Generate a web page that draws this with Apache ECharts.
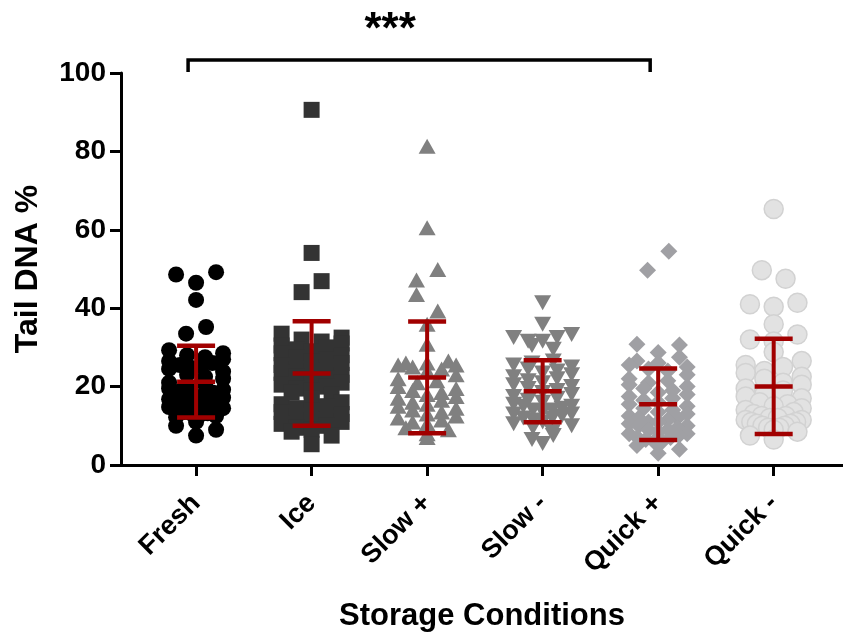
<!DOCTYPE html>
<html>
<head>
<meta charset="utf-8">
<script src="https://cdn.jsdelivr.net/npm/echarts@6/dist/echarts.min.js"></script>
<style>
  html, body { margin: 0; padding: 0; background: #fff; }
  #chart { width: 843px; height: 637px; }
</style>
</head>
<body>
<div id="chart"></div>
<script>
const categories = ['Fresh', 'Ice', 'Slow +', 'Slow -', 'Quick +', 'Quick -']
const yTicks = [0, 20, 40, 60, 80, 100]

// tail DNA % per comet
const fresh = [49.2, 48.6, 46.5, 42.1, 35.2, 33.5,
  29.3, 28.5, 28.0, 27.5, 27.0, 26.5, 26.0, 25.5, 25.2, 24.8, 24.5,
  23.8, 23.0, 22.5, 22.0, 21.0, 20.5, 20.0, 19.5, 19.2,
  18.8, 18.5, 18.0, 17.5, 17.2, 16.8, 16.5, 16.2, 16.0, 15.5, 15.2, 15.0,
  14.8, 14.5, 14.2, 13.8, 13.5, 13.2, 13.0, 12.8, 12.5, 12.2,
  11.0, 10.0, 9.0, 7.5]
const ice = [90.6, 54.1, 46.9, 44.1,
  33.5, 32.5, 32.0, 31.5, 31.0, 30.5, 30.0, 29.5, 29.0, 28.5, 28.0,
  27.5, 27.0, 26.5, 26.0, 25.5, 25.0, 24.5, 24.0, 23.5, 23.0, 22.5, 22.0,
  21.5, 21.0, 20.5, 20.0, 19.5, 19.0, 18.5, 18.0, 17.0, 16.0, 15.5, 15.0,
  14.5, 14.0, 13.5, 13.0, 12.5, 12.0, 11.5, 11.0, 10.5, 10.0, 9.5, 9.0,
  8.5, 7.5, 5.3]
const slowPlus = [81.3, 60.5, 49.9, 47.2, 43.5, 39.3, 35.9, 30.8,
  26.5, 26.0, 26.0, 25.5, 25.5, 25.0, 24.5, 24.0, 23.0, 22.0,
  21.5, 21.0, 20.0, 19.5, 19.0, 18.5, 18.0, 17.5, 17.0, 16.5, 16.0,
  15.5, 15.0, 14.5, 14.0, 13.5, 13.0, 12.5, 12.0, 11.5, 11.0, 10.5,
  9.5, 9.0, 8.0, 7.0]
const slowMinus = [41.4, 35.9, 33.3, 32.5, 32.5, 31.6, 31.6, 30.5, 29.5,
  26.5, 26.0, 25.5, 25.0, 24.5, 24.0, 23.5, 23.0, 22.5, 22.0,
  21.5, 21.0, 20.5, 20.0, 19.5, 19.0, 18.5, 18.0, 17.5, 17.0, 16.5, 16.0,
  15.5, 15.0, 15.0, 14.5, 14.0, 14.0, 13.5, 13.0, 13.0, 12.5, 12.0, 12.0,
  11.5, 11.0, 10.5, 10.0, 9.5, 8.5, 7.5, 6.5, 5.5]
const quickPlus = [54.5, 49.7, 30.8, 30.6, 28.7, 27.5, 26.5, 26.0,
  25.5, 25.0, 24.5, 24.0, 23.0, 22.0, 21.5, 21.0, 20.5, 20.0,
  19.5, 19.0, 18.5, 18.0, 17.5, 17.0, 16.5, 16.0, 15.5, 15.0, 14.5, 14.0,
  13.5, 13.0, 12.5, 12.0, 12.0, 11.5, 11.0, 11.0, 10.5, 10.0, 10.0, 9.5,
  9.0, 9.0, 8.5, 8.0, 8.0, 7.5, 7.0, 7.0, 6.5, 6.0, 6.0,
  5.0, 4.0, 3.0]
const quickMinus = [65.3, 49.7, 47.5, 41.4, 41.0, 40.4, 35.9, 33.3, 32.0, 31.5, 28.8, 26.5,
  25.5, 25.0, 24.0, 23.5, 22.5, 22.0, 21.0, 20.5,
  19.5, 19.0, 18.0, 17.5, 17.0, 16.0, 15.5, 15.0, 14.5, 14.0,
  13.5, 13.0, 12.5, 12.5, 12.0, 12.0, 11.5, 11.5, 11.0, 11.0, 10.5, 10.5,
  10.0, 10.0, 9.5, 9.5, 9.0, 8.5, 7.5, 6.5]

// mean and SD bars as drawn
const means = [21.25, 23.35, 22.35, 18.8, 15.5, 20.05]
const sds = [9.15, 13.35, 14.25, 7.9, 9.1, 12.15]

const significance = [{ from: 0, to: 4, label: '***' }]

const groups = [fresh, ice, slowPlus, slowMinus, quickPlus, quickMinus]
const looks = [
  { symbol: 'circle', size: 16, color: '#000000', span: 54 },
  { symbol: 'rect', size: 16, color: '#333333', span: 60 },
  { symbol: 'triangle', size: [17, 15], color: '#808080', span: 58 },
  { symbol: 'triangle', size: [17, 15], color: '#808080', rotate: 180, span: 58 },
  { symbol: 'diamond', size: 17, color: '#a0a0a4', span: 58 },
  { symbol: 'circle', size: 19, color: '#e2e2e2', border: '#d2d2d2', span: 56 }
]
const RED = '#a10000'
const FONT = 'Liberation Sans'

const chart = echarts.init(document.getElementById('chart'))

const base = {
  animation: false,
  grid: { left: 121, right: 0, top: 73, bottom: 171 },
  xAxis: {
    type: 'value',
    min: -0.65,
    max: 5.6,
    name: 'Storage Conditions',
    nameLocation: 'middle',
    nameGap: 136,
    nameTextStyle: { fontFamily: FONT, fontWeight: 'bold', fontSize: 31, color: '#000' },
    axisLine: { onZero: false, lineStyle: { color: '#000', width: 3 } },
    axisTick: { customValues: [0, 1, 2, 3, 4, 5], length: 11, lineStyle: { color: '#000', width: 3 } },
    axisLabel: {
      customValues: [0, 1, 2, 3, 4, 5],
      formatter: v => categories[Math.round(v)],
      rotate: 45,
      margin: 34,
      fontFamily: FONT, fontWeight: 'bold', fontSize: 27, color: '#000'
    },
    splitLine: { show: false }
  },
  yAxis: {
    type: 'value',
    min: 0,
    max: 100,
    interval: 20,
    name: 'Tail DNA %',
    nameLocation: 'middle',
    nameGap: 77,
    nameTextStyle: { fontFamily: FONT, fontWeight: 'bold', fontSize: 32, color: '#000' },
    axisLine: { show: true, onZero: false, lineStyle: { color: '#000', width: 3 } },
    axisTick: { show: true, length: 11, lineStyle: { color: '#000', width: 3 } },
    axisLabel: {
      customValues: yTicks,
      margin: 15,
      fontFamily: FONT, fontWeight: 'bold', fontSize: 28, color: '#000'
    },
    splitLine: { show: false }
  },
  series: []
}
chart.setOption(base)

const o = chart.convertToPixel({ gridIndex: 0 }, [0, 0])
const p = chart.convertToPixel({ gridIndex: 0 }, [1, 100])
const pxX = p[0] - o[0]
const pxY = (o[1] - p[1]) / 100

// walk down from the top, cutting sorted indices into rows no taller than h
function cutRows (values, idx, h) {
  const rows = []
  let cur = null
  idx.forEach(i => {
    if (!cur || cur.start - values[i] >= h) {
      cur = { start: values[i], items: [] }
      rows.push(cur)
    }
    cur.items.push(i)
  })
  return rows
}

// Prism-style column scatter: rows about one symbol high (thinner where crowded),
// each row laid side by side with the lowest in the middle,
// squeezed when it would get wider than the span
function spread (values, size, span) {
  const idx = values.map((v, i) => i).sort((a, b) => values[b] - values[a])
  let rows = []
  cutRows(values, idx, size * 1.15 / pxY).forEach(r => {
    if (r.items.length >= 4) rows = rows.concat(cutRows(values, r.items, size * 0.55 / pxY))
    else rows.push(r)
  })
  const out = new Array(values.length)
  let side = 1
  rows.forEach(r => {
    const items = r.items.slice().sort((a, b) => values[a] - values[b])
    const n = items.length
    const s = n > 1 ? Math.min(size * 1.25, span / (n - 1)) : 0
    const slots = []
    for (let j = 0; j < n; j++) slots.push((j - (n - 1) / 2) * s)
    slots.sort((a, b) => Math.abs(a) - Math.abs(b) || side * (a - b))
    side = -side
    items.forEach((i, j) => { out[i] = slots[j] })
  })
  return out
}

const scatter = groups.map((vals, g) => {
  const lk = looks[g]
  const w = Array.isArray(lk.size) ? lk.size[0] : lk.size
  const off = spread(vals, w, lk.span)
  return {
    type: 'scatter',
    name: categories[g],
    symbol: lk.symbol,
    symbolSize: lk.size,
    symbolRotate: lk.rotate || 0,
    itemStyle: {
      color: lk.color,
      opacity: 1,
      borderColor: lk.border || lk.color,
      borderWidth: lk.border ? 1.5 : 0
    },
    data: vals.map((v, i) => [g + off[i] / pxX, v]),
    z: 2
  }
})

const errorBars = {
  type: 'custom',
  data: means.map((m, i) => [i, m - sds[i], m, m + sds[i]]),
  renderItem: (params, api) => {
    const x = api.coord([api.value(0), 0])[0]
    const lo = api.coord([0, api.value(1)])[1]
    const mid = api.coord([0, api.value(2)])[1]
    const hi = api.coord([0, api.value(3)])[1]
    const hw = 19
    const st = { stroke: RED, lineWidth: 4.5 }
    return {
      type: 'group',
      children: [
        { type: 'line', shape: { x1: x, y1: lo, x2: x, y2: hi }, style: { stroke: RED, lineWidth: 4 } },
        { type: 'line', shape: { x1: x - hw, y1: lo, x2: x + hw, y2: lo }, style: st },
        { type: 'line', shape: { x1: x - hw, y1: mid, x2: x + hw, y2: mid }, style: st },
        { type: 'line', shape: { x1: x - hw, y1: hi, x2: x + hw, y2: hi }, style: st }
      ]
    }
  },
  z: 5
}

const bracket = {
  type: 'custom',
  data: significance.map(s => [s.from, s.to]),
  renderItem: (params, api) => {
    const top = params.coordSys.y
    const x1 = api.coord([api.value(0), 0])[0] - 8
    const x2 = api.coord([api.value(1), 0])[0] - 8
    const yLine = top - 13
    const yEnd = top - 1
    return {
      type: 'group',
      children: [
        {
          type: 'polyline',
          shape: { points: [[x1, yEnd], [x1, yLine], [x2, yLine], [x2, yEnd]] },
          style: { stroke: '#000', lineWidth: 3.5, fill: null }
        },
        {
          type: 'text',
          x: (x1 + x2) / 2 - 29,
          y: top - 42,
          style: {
            text: significance[params.dataIndex].label,
            fontFamily: FONT, fontWeight: 'bold', fontSize: 44, fill: '#000',
            align: 'center', verticalAlign: 'middle'
          }
        }
      ]
    }
  },
  z: 6
}

chart.setOption({ series: scatter.concat([errorBars, bracket]) })
</script>
</body>
</html>
